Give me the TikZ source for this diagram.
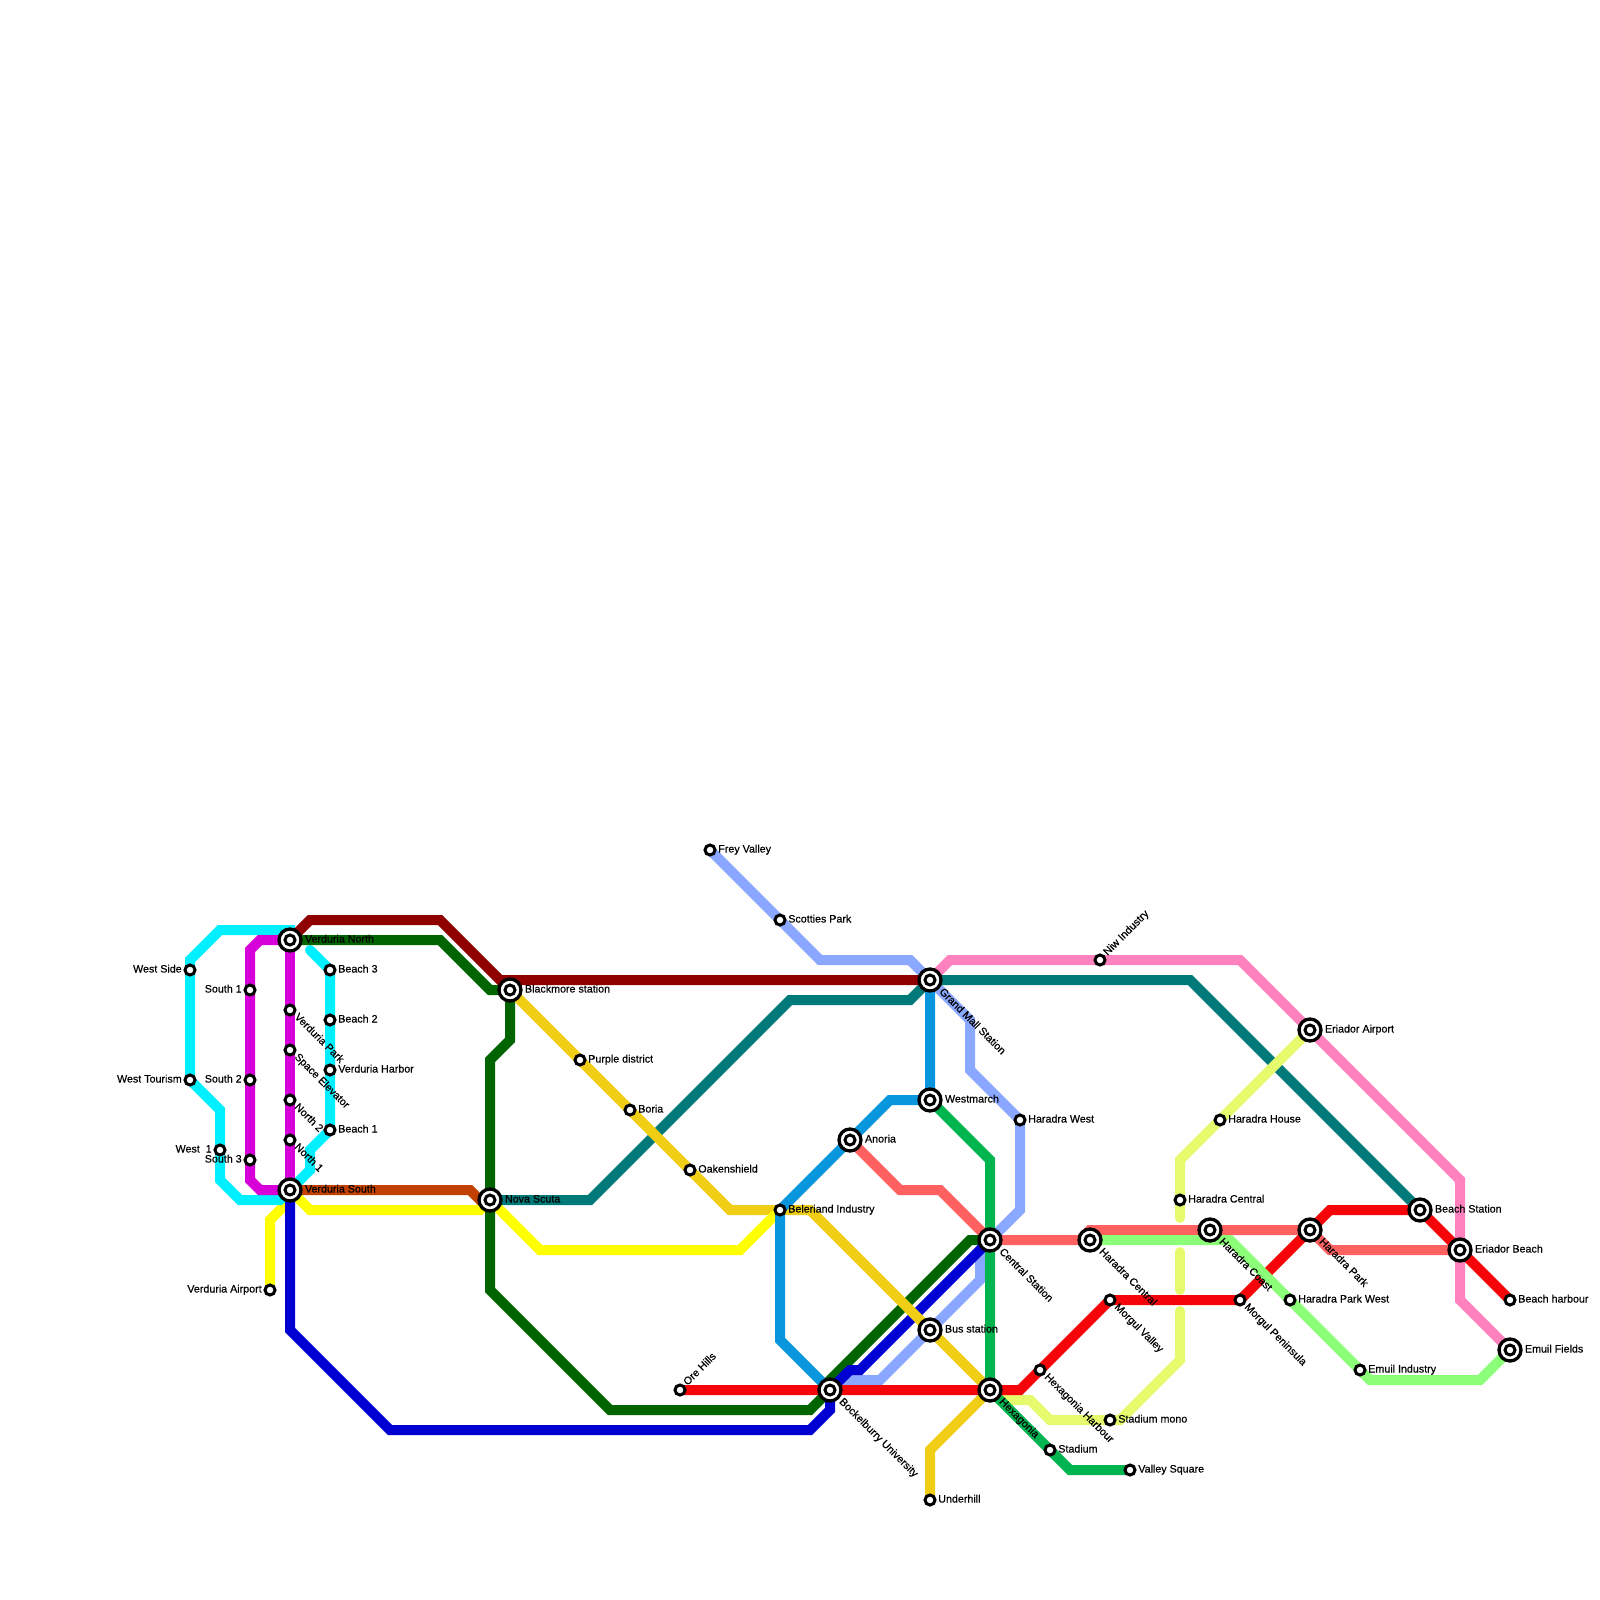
\documentclass[tikz,border=0pt]{standalone}
\usepackage{fontspec}
\newfontfamily\stationfont[FakeBold=0.5]{Liberation Sans}
\definecolor{periwinkle}{HTML}{8AA8FF}
\definecolor{tealline}{HTML}{007A78}
\definecolor{cyanline}{HTML}{00F0FF}
\definecolor{magentaline}{HTML}{D800D8}
\definecolor{darkred}{HTML}{8F0000}
\definecolor{rust}{HTML}{C24100}
\definecolor{darkgreen}{HTML}{006400}
\definecolor{darkblue}{HTML}{0000D2}
\definecolor{gold}{HTML}{F0CE15}
\definecolor{yellowline}{HTML}{FFFF00}
\definecolor{pinkline}{HTML}{FF82BE}
\definecolor{skyline}{HTML}{0A96DC}
\definecolor{midgreen}{HTML}{00B450}
\definecolor{limeline}{HTML}{E6FA6E}
\definecolor{salmon}{HTML}{FF6060}
\definecolor{lightgreen}{HTML}{8CFF78}
\definecolor{redline}{HTML}{F5050A}
\pgfdeclarelayer{lines}
\pgfsetlayers{lines,main}
\begin{document}
\begin{tikzpicture}[x=10pt,y=-10pt,
  metro/.style={line width=10pt},
  stn/.style={circle,draw=black,fill=white,line width=3pt,minimum size=10pt,inner sep=0pt,outer sep=0pt},
  hub/.style={circle,draw=black,fill=white,line width=3.3pt,minimum size=22pt,inner sep=0pt,outer sep=0pt},
  txt/.style={font=\stationfont\fontsize{10.7pt}{12pt}\selectfont,inner sep=0pt,outer sep=0pt,text=black},
  lr/.style={txt,anchor=base west,shift={(8.3pt,-2.5pt)}},
  ll/.style={txt,anchor=base east,shift={(-8.3pt,-2.5pt)}},
  ld/.style={txt,anchor=base west,rotate=-45,shift={(8.3pt,-2.5pt)}},
  lu/.style={txt,anchor=base west,rotate=45,shift={(8.3pt,-2.5pt)}},
  hr/.style={txt,anchor=base west,shift={(15pt,-2.5pt)}},
  hd/.style={txt,anchor=base west,rotate=-45,shift={(15pt,-2.5pt)}}]
  \useasboundingbox (0,0) rectangle (160,160);

  % hubs
  \node[hub] (vnorth) at (29,94) {}; \node[stn] (vnorthin) at (vnorth) {}; \node[hr] (vnortht) at (vnorth) {Verduria North};
  \node[hub] (vsouth) at (29,119) {}; \node[stn] (vsouthin) at (vsouth) {}; \node[hr] (vsoutht) at (vsouth) {Verduria South};
  \node[hub] (blackmore) at (51,99) {}; \node[stn] (blackmorein) at (blackmore) {}; \node[hr] (blackmoret) at (blackmore) {Blackmore station};
  \node[hub] (novascuta) at (49,120) {}; \node[stn] (novascutain) at (novascuta) {}; \node[hr] (novascutat) at (novascuta) {Nova Scuta};
  \node[hub] (grandmall) at (93,98) {}; \node[stn] (grandmallin) at (grandmall) {}; \node[hd] (grandmallt) at (grandmall) {Grand Mall Station};
  \node[hub] (westmarch) at (93,110) {}; \node[stn] (westmarchin) at (westmarch) {}; \node[hr] (westmarcht) at (westmarch) {Westmarch};
  \node[hub] (anoria) at (85,114) {}; \node[stn] (anoriain) at (anoria) {}; \node[hr] (anoriat) at (anoria) {Anoria};
  \node[hub] (central) at (99,124) {}; \node[stn] (centralin) at (central) {}; \node[hd] (centralt) at (central) {Central Station};
  \node[hub] (busst) at (93,133) {}; \node[stn] (busstin) at (busst) {}; \node[hr] (busstt) at (busst) {Bus station};
  \node[hub] (bockel) at (83,139) {}; \node[stn] (bockelin) at (bockel) {}; \node[hd] (bockelt) at (bockel) {Bockelburry University};
  \node[hub] (hexagonia) at (99,139) {}; \node[stn] (hexagoniain) at (hexagonia) {}; \node[hd] (hexagoniat) at (hexagonia) {Hexagonia};
  \node[hub] (hcentral) at (109,124) {}; \node[stn] (hcentralin) at (hcentral) {}; \node[hd] (hcentralt) at (hcentral) {Haradra Central};
  \node[hub] (hcoast) at (121,123) {}; \node[stn] (hcoastin) at (hcoast) {}; \node[hd] (hcoastt) at (hcoast) {Haradra Coast};
  \node[hub] (hpark) at (131,123) {}; \node[stn] (hparkin) at (hpark) {}; \node[hd] (hparkt) at (hpark) {Haradra Park};
  \node[hub] (eairport) at (131,103) {}; \node[stn] (eairportin) at (eairport) {}; \node[hr] (eairportt) at (eairport) {Eriador Airport};
  \node[hub] (beachst) at (142,121) {}; \node[stn] (beachstin) at (beachst) {}; \node[hr] (beachstt) at (beachst) {Beach Station};
  \node[hub] (ebeach) at (146,125) {}; \node[stn] (ebeachin) at (ebeach) {}; \node[hr] (ebeacht) at (ebeach) {Eriador Beach};
  \node[hub] (efields) at (151,135) {}; \node[stn] (efieldsin) at (efields) {}; \node[hr] (efieldst) at (efields) {Emuil Fields};

  % small stations, west
  \node[stn] (westside) at (19,97) {}; \node[ll] (westsidet) at (westside) {West Side};
  \node[stn] (westtour) at (19,108) {}; \node[ll] (westtourt) at (westtour) {West Tourism};
  \node[stn] (west1) at (22,115) {}; \node[ll] (west1t) at (west1) {West\ \ 1};
  \node[stn] (south1) at (25,99) {}; \node[ll] (south1t) at (south1) {South 1};
  \node[stn] (south2) at (25,108) {}; \node[ll] (south2t) at (south2) {South 2};
  \node[stn] (south3) at (25,116) {}; \node[ll] (south3t) at (south3) {South 3};
  \node[stn] (vpark) at (29,101) {}; \node[ld] (vparkt) at (vpark) {Verduria Park};
  \node[stn] (space) at (29,105) {}; \node[ld] (spacet) at (space) {Space Elevator};
  \node[stn] (north2) at (29,110) {}; \node[ld] (north2t) at (north2) {North 2};
  \node[stn] (north1) at (29,114) {}; \node[ld] (north1t) at (north1) {North 1};
  \node[stn] (beach3) at (33,97) {}; \node[lr] (beach3t) at (beach3) {Beach 3};
  \node[stn] (beach2) at (33,102) {}; \node[lr] (beach2t) at (beach2) {Beach 2};
  \node[stn] (vharbor) at (33,107) {}; \node[lr] (vharbort) at (vharbor) {Verduria Harbor};
  \node[stn] (beach1) at (33,113) {}; \node[lr] (beach1t) at (beach1) {Beach 1};
  \node[stn] (vairport) at (27,129) {}; \node[ll] (vairportt) at (vairport) {Verduria Airport};

  % small stations, middle
  \node[stn] (purple) at (58,106) {}; \node[lr] (purplet) at (purple) {Purple district};
  \node[stn] (boria) at (63,111) {}; \node[lr] (boriat) at (boria) {Boria};
  \node[stn] (oaken) at (69,117) {}; \node[lr] (oakent) at (oaken) {Oakenshield};
  \node[stn] (frey) at (71,85) {}; \node[lr] (freyt) at (frey) {Frey Valley};
  \node[stn] (scotties) at (78,92) {}; \node[lr] (scottiest) at (scotties) {Scotties Park};
  \node[stn] (beleriand) at (78,121) {}; \node[lr] (beleriandt) at (beleriand) {Beleriand Industry};
  \node[stn] (orehills) at (68,139) {}; \node[lu] (orehillst) at (orehills) {Ore Hills};
  \node[stn] (underhill) at (93,150) {}; \node[lr] (underhillt) at (underhill) {Underhill};
  \node[stn] (hwest) at (102,112) {}; \node[lr] (hwestt) at (hwest) {Haradra West};
  \node[stn] (niw) at (110,96) {}; \node[lu] (niwt) at (niw) {Niw Industry};

  % small stations, east
  \node[stn] (hharbour) at (104,137) {}; \node[ld] (hharbourt) at (hharbour) {Hexagonia Harbour};
  \node[stn] (stadium) at (105,145) {}; \node[lr] (stadiumt) at (stadium) {Stadium};
  \node[stn] (stmono) at (111,142) {}; \node[lr] (stmonot) at (stmono) {Stadium mono};
  \node[stn] (valley) at (113,147) {}; \node[lr] (valleyt) at (valley) {Valley Square};
  \node[stn] (mvalley) at (111,130) {}; \node[ld] (mvalleyt) at (mvalley) {Morgul Valley};
  \node[stn] (mpen) at (124,130) {}; \node[ld] (mpent) at (mpen) {Morgul Peninsula};
  \node[stn] (hcst) at (118,120) {}; \node[lr] (hcstt) at (hcst) {Haradra Central};
  \node[stn] (hhouse) at (122,112) {}; \node[lr] (hhouset) at (hhouse) {Haradra House};
  \node[stn] (hpwest) at (129,130) {}; \node[lr] (hpwestt) at (hpwest) {Haradra Park West};
  \node[stn] (eindustry) at (136,137) {}; \node[lr] (eindustryt) at (eindustry) {Emuil Industry};
  \node[stn] (bharbour) at (151,130) {}; \node[lr] (bharbourt) at (bharbour) {Beach harbour};

  \begin{pgfonlayer}{lines}
  % lines, lowest first
  \draw[metro,periwinkle] (frey.center) -- (82,96) -- (91,96) -- (grandmall.center) -- (97,102) -- (97,107) -- (hwest.center) -- (102,121) -- (central.center) -- (98,125) -- (98,128) -- (88,138) -- (84,138) -- (bockel.center);
  \draw[metro,tealline] (grandmall.center) -- (119,98) -- (beachst.center);
  \draw[metro,tealline] (grandmall.center) -- (91,100) -- (79,100) -- (59,120) -- (novascuta.center);
  \draw[metro,yellowline] (vairport.center) -- (27,122) -- (29,120) -- (vsouth.center);
  \draw[metro,yellowline] (vsouth.center) -- (31,121) -- (48,121) -- (novascuta.center) -- (54,125) -- (60,125);
  \draw[metro,cyanline] (vsouth.center) -- (28,120) -- (24,120) -- (22,118) -- (22,111) -- (westtour.center) -- (19,96) -- (22,93) -- (29,93) -- (vnorth.center);
  \draw[metro,cyanline,line cap=round] (31,95) -- (beach3.center) -- (beach1.center) -- (31,115) -- (31,117) -- (vsouth.center);
  \draw[metro,magentaline] (vnorth.center) -- (26,94) -- (25,95) -- (25,118) -- (26,119) -- (vsouth.center);
  \draw[metro,magentaline] (vnorth.center) -- (vsouth.center);
  \draw[metro,darkred] (vnorth.center) -- (31,92) -- (44,92) -- (50,98) -- (grandmall.center);
  \draw[metro,rust] (vsouth.center) -- (47,119) -- (48,120) -- (novascuta.center);
  \draw[metro,darkgreen] (vnorth.center) -- (44,94) -- (49,99) -- (blackmore.center) -- (51,104) -- (49,106) -- (49,129) -- (61,141) -- (81,141) -- (bockel.center) -- (83,138) -- (97,124) -- (central.center);
  \draw[metro,darkblue] (vsouth.center) -- (29,133) -- (39,143) -- (81,143) -- (83,141) -- (bockel.center) -- (85,137) -- (86,137) -- (central.center);
  \draw[metro,gold] (blackmore.center) -- (73,121) -- (81,121) -- (hexagonia.center) -- (93,145) -- (underhill.center);
  \draw[metro,yellowline] (60,125) -- (74,125) -- (beleriand.center);
  \draw[metro,pinkline] (grandmall.center) -- (95,96) -- (124,96) -- (146,118) -- (146,130) -- (efields.center);
  \draw[metro,skyline] (grandmall.center) -- (westmarch.center) -- (89,110) -- (beleriand.center) -- (78,134) -- (bockel.center);
  \draw[metro,limeline,line cap=round] (eairport.center) -- (118,116) -- (118,121.8);
  \draw[metro,limeline,line cap=round] (118,125.2) -- (118,129);
  \draw[metro,limeline,line cap=round] (118,131.1) -- (118,136) -- (112,142) -- (105,142) -- (103,140) -- (100,140) -- (hexagonia.center);
  \draw[metro,midgreen] (westmarch.center) -- (99,116) -- (hexagonia.center) -- (107,147) -- (valley.center);
  \draw[metro,salmon] (anoria.center) -- (90,119) -- (94,119) -- (central.center) -- (108,124) -- (109,123) -- (hpark.center) -- (133,125) -- (ebeach.center);
  \draw[metro,redline] (orehills.center) -- (102,139) -- (mvalley.center) -- (mpen.center) -- (hpark.center) -- (133,121) -- (beachst.center) -- (bharbour.center);
  \draw[metro,lightgreen] (hcentral.center) -- (123,124) -- (137,138) -- (148,138) -- (efields.center);
  \end{pgfonlayer}
\end{tikzpicture}
\end{document}
